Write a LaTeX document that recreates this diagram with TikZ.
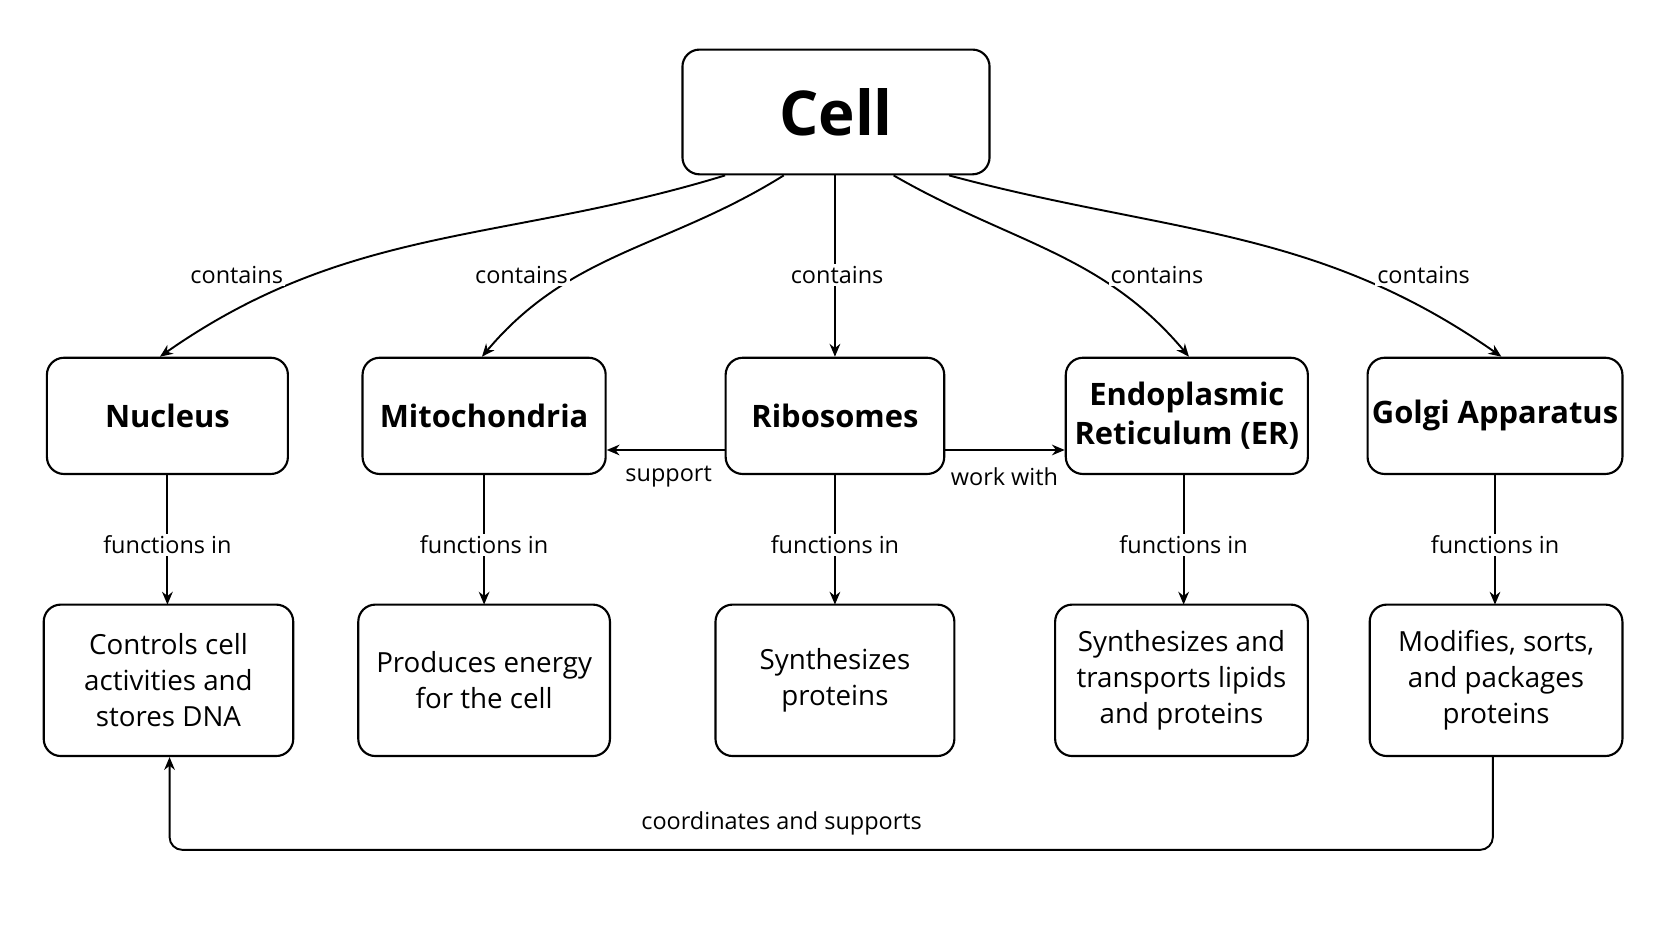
\documentclass[tikz,border=0pt]{standalone}
\usepackage{fontspec}
\setmainfont{Open Sans}
\usetikzlibrary{arrows.meta}
\begin{document}
\begin{tikzpicture}[x=1pt,y=1pt,
  box/.style={draw,line width=2pt,rounded corners=16pt,align=center,inner sep=0pt},
  lbl/.style={fill=white,inner sep=2pt,font=\fontsize{22}{26}\selectfont},
  arr/.style={line width=1.8pt,-{Stealth[length=12pt,width=10pt]}},
  txt/.style={font=\fontsize{26}{34}\selectfont},
  ttl/.style={font=\fontsize{29}{36}\selectfont\bfseries}]
\useasboundingbox[fill=white] (0,0) rectangle (1568,-882);
\node[box,minimum width=288,minimum height=117,font=\fontsize{58}{62}\selectfont\bfseries] (cell) at (784,-105) {Cell};
\node[box,minimum width=226,minimum height=109,ttl] (nuc) at (157,-390) {Nucleus};
\node[box,minimum width=228,minimum height=109,ttl] (mit) at (454,-390) {Mitochondria};
\node[box,minimum width=205,minimum height=109,ttl] (rib) at (783,-390) {Ribosomes};
\node[box,minimum width=227,minimum height=109,ttl] (er) at (1113,-390) {Endoplasmic\\Reticulum (ER)};
\node[box,minimum width=239,minimum height=109,ttl] (gol) at (1402,-390) {Golgi Apparatus};
\node[box,minimum width=234,minimum height=142,txt] (d1) at (158,-638) {Controls cell\\activities and\\stores DNA};
\node[box,minimum width=236,minimum height=142,txt] (d2) at (454,-638) {Produces energy\\for the cell};
\node[box,minimum width=224,minimum height=142,txt] (d3) at (783,-638) {Synthesizes\\proteins};
\node[box,minimum width=237,minimum height=142,txt] (d4) at (1108,-638) {Synthesizes and\\transports lipids\\and proteins};
\node[box,minimum width=237,minimum height=142,txt] (d5) at (1403,-638) {Modifies, sorts,\\and packages\\proteins};
% contains
\draw[arr] ([xshift=-104pt]cell.south) to[out=197,in=35] ([xshift=-7pt]nuc.north);
\draw[arr] ([xshift=-49pt]cell.south) to[out=212,in=50] ([xshift=-2pt]mit.north);
\draw[arr] ([xshift=-1pt]cell.south) -- (rib.north);
\draw[arr] ([xshift=54pt]cell.south) to[out=-30,in=130] ([xshift=2pt]er.north);
\draw[arr] ([xshift=106pt]cell.south) to[out=-15,in=145] ([xshift=6pt]gol.north);
\node[lbl] (c1) at (222,-258) {contains};
\node[lbl] (c2) at (489,-258) {contains};
\node[lbl] (c3) at (785,-258) {contains};
\node[lbl] (c4) at (1085,-258) {contains};
\node[lbl] (c5) at (1335,-258) {contains};
% side
\draw[arr] ([yshift=-32pt]rib.west) -- ([yshift=-32pt]mit.east);
\draw[arr] ([yshift=-32pt]rib.east) -- ([yshift=-32pt]er.west);
\node[lbl] (s1) at (627,-447) {support};
\node[lbl] (s2) at (942,-447) {work with};
% functions in
\foreach \a/\b/\x in {nuc/d1/157,mit/d2/454,rib/d3/783,er/d4/1110,gol/d5/1402}{
  \draw[arr] (\x,-445) -- (\x,-567);
  \node[lbl] at (\x,-511) {functions in};
}
% bottom
\draw[arr,rounded corners=12pt] ([xshift=-3pt]d5.south) -- ++(0,-87) -| ([xshift=1pt]d1.south);
\node[lbl,fill=none] (b) at (733,-772) {coordinates and supports};
\end{tikzpicture}
\end{document}
